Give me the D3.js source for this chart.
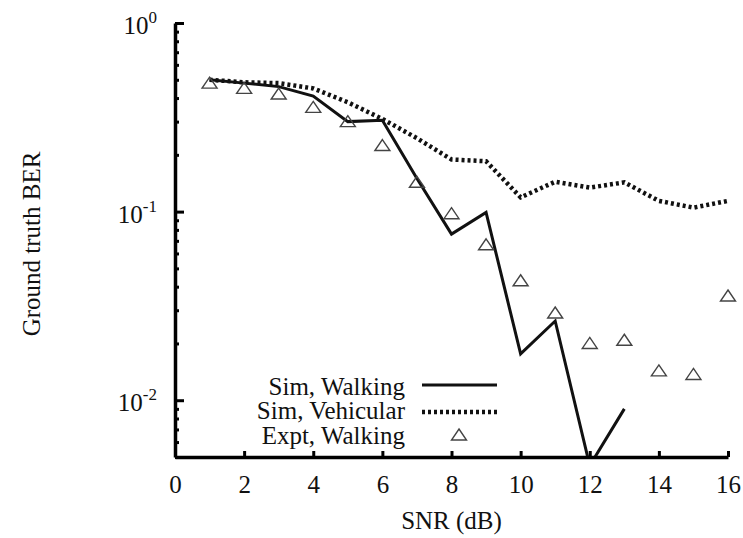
<!DOCTYPE html>
<html>
<head>
<meta charset="utf-8">
<script src="https://cdn.jsdelivr.net/npm/d3@7"></script>
<style>
  body { margin: 0; background: #fff; }
  svg { font-family: "Liberation Serif", "Times New Roman", serif; }
</style>
</head>
<body>
<svg id="chart" width="743" height="538"></svg>
<script>
// SNR in dB, one value per integer step
const snrWalking = [1, 2, 3, 4, 5, 6, 7, 8, 9, 10, 11, 12, 13]
const simWalking = [0.50, 0.48, 0.46, 0.41, 0.30, 0.305, 0.15, 0.076, 0.099, 0.0176, 0.0263, 0.0045, 0.0090]

const snrVehicular = [1, 2, 3, 4, 5, 6, 7, 8, 9, 10, 11, 12, 13, 14, 15, 16]
const simVehicular = [0.50, 0.485, 0.48, 0.45, 0.38, 0.31, 0.245, 0.189, 0.185, 0.119, 0.144, 0.134, 0.143, 0.114, 0.105, 0.114]

const snrExpt = [1, 2, 3, 4, 5, 6, 7, 8, 9, 10, 11, 12, 13, 14, 15, 16]
const exptWalking = [0.48, 0.45, 0.42, 0.357, 0.30, 0.224, 0.143, 0.0975, 0.0667, 0.043, 0.029, 0.020, 0.0208, 0.0143, 0.0137, 0.0357]

const xTicks = [0, 2, 4, 6, 8, 10, 12, 14, 16]
const yMajor = [1, 0.1, 0.01]
const yExponents = ['0', '-1', '-2']
const legendLabels = ['Sim, Walking', 'Sim, Vehicular', 'Expt, Walking']

const svg = d3.select('#chart')
const plotLeft = 175
const plotRight = 728
const plotTop = 23
const plotBottom = 457

const x = d3.scaleLinear().domain([0, 16]).range([plotLeft, plotRight])
const y = d3.scaleLog().domain([0.005, 1]).range([plotBottom, plotTop])

// minor ticks: 2..9 times each decade, inside the domain
const yMinor = []
;[0.001, 0.01, 0.1].forEach((d) => {
  for (let k = 2; k <= 9; k++) {
    const v = d * k
    if (v >= 0.005 && v < 1) yMinor.push(v)
  }
})

svg.append('defs')
  .append('clipPath')
  .attr('id', 'plot-clip')
  .append('rect')
  .attr('x', plotLeft)
  .attr('y', 0)
  .attr('width', plotRight - plotLeft + 10)
  .attr('height', plotBottom - 1)

// axes
const xAxis = svg.append('g')
  .attr('transform', `translate(0,${plotBottom})`)
  .call(
    d3.axisBottom(x)
      .tickValues(xTicks)
      .tickSizeInner(-6)
      .tickSizeOuter(0)
      .tickPadding(18)
      .tickFormat(d3.format('d'))
  )
xAxis.select('.domain').attr('stroke-width', 3.5)
xAxis.selectAll('.tick line').attr('stroke-width', 3)
xAxis.selectAll('.tick text')
  .attr('font-size', 25)
  .attr('font-family', '"Liberation Serif", serif')
  .attr('fill', '#111')

const yMinorAxis = svg.append('g')
  .attr('transform', `translate(${plotLeft},0)`)
  .call(d3.axisLeft(y).tickValues(yMinor).tickSizeInner(-4).tickSizeOuter(0).tickFormat(''))
yMinorAxis.select('.domain').remove()
yMinorAxis.selectAll('.tick line').attr('stroke-width', 3)

const yAxis = svg.append('g')
  .attr('transform', `translate(${plotLeft},0)`)
  .call(d3.axisLeft(y).tickValues(yMajor).tickSizeInner(-9).tickSizeOuter(0).tickFormat(''))
yAxis.select('.domain').attr('stroke-width', 3.5)
yAxis.selectAll('.tick line').attr('stroke-width', 3)

// y tick labels with superscript exponents
const yLabels = svg.append('g')
  .attr('font-size', 25)
  .attr('fill', '#111')
yMajor.forEach((v, i) => {
  const t = yLabels.append('text')
    .attr('x', 157)
    .attr('y', y(v) + 11)
    .attr('text-anchor', 'end')
  t.append('tspan').text('10')
  t.append('tspan')
    .attr('font-size', 17)
    .attr('dy', -11)
    .text(yExponents[i])
})

// axis titles
svg.append('text')
  .attr('x', (plotLeft + plotRight) / 2)
  .attr('y', 529)
  .attr('text-anchor', 'middle')
  .attr('font-size', 25)
  .attr('fill', '#111')
  .text('SNR (dB)')

svg.append('text')
  .attr('transform', 'translate(40,244) rotate(-90)')
  .attr('text-anchor', 'middle')
  .attr('font-size', 25)
  .attr('fill', '#111')
  .text('Ground truth BER')

// series
const plot = svg.append('g').attr('clip-path', 'url(#plot-clip)')

const lineWalking = d3.line()
  .x((d, i) => x(snrWalking[i]))
  .y((d) => y(d))
const lineVehicular = d3.line()
  .x((d, i) => x(snrVehicular[i]))
  .y((d) => y(d))

plot.append('path')
  .datum(simVehicular)
  .attr('d', lineVehicular)
  .attr('fill', 'none')
  .attr('stroke', '#111')
  .attr('stroke-width', 4.5)
  .attr('stroke-dasharray', '3,3')

plot.append('path')
  .datum(simWalking)
  .attr('d', lineWalking)
  .attr('fill', 'none')
  .attr('stroke', '#111')
  .attr('stroke-width', 3)
  .attr('stroke-linejoin', 'miter')

// open triangle, a little wider than tall
const wideTriangle = {
  draw(context) {
    context.moveTo(0, -6)
    context.lineTo(7.5, 5)
    context.lineTo(-7.5, 5)
    context.closePath()
  }
}
const triangle = d3.symbol().type(wideTriangle)

svg.append('g')
  .selectAll('path')
  .data(exptWalking)
  .join('path')
  .attr('transform', (d, i) => `translate(${x(snrExpt[i])},${y(d)})`)
  .attr('d', triangle)
  .attr('fill', 'none')
  .attr('stroke', '#444')
  .attr('stroke-width', 1.4)

// legend
const legend = svg.append('g').attr('font-size', 25).attr('fill', '#111')
const legendRowY = [395, 419, 444]
legendLabels.forEach((label, i) => {
  legend.append('text')
    .attr('x', 405)
    .attr('y', legendRowY[i])
    .attr('text-anchor', 'end')
    .text(label)
})
legend.append('line')
  .attr('x1', 422).attr('x2', 497)
  .attr('y1', 385).attr('y2', 385)
  .attr('stroke', '#111')
  .attr('stroke-width', 3)
legend.append('line')
  .attr('x1', 422).attr('x2', 497)
  .attr('y1', 412).attr('y2', 412)
  .attr('stroke', '#111')
  .attr('stroke-width', 4.5)
  .attr('stroke-dasharray', '3,3')
legend.append('path')
  .attr('transform', 'translate(459,435)')
  .attr('d', triangle)
  .attr('fill', 'none')
  .attr('stroke', '#444')
  .attr('stroke-width', 1.4)
</script>
</body>
</html>
